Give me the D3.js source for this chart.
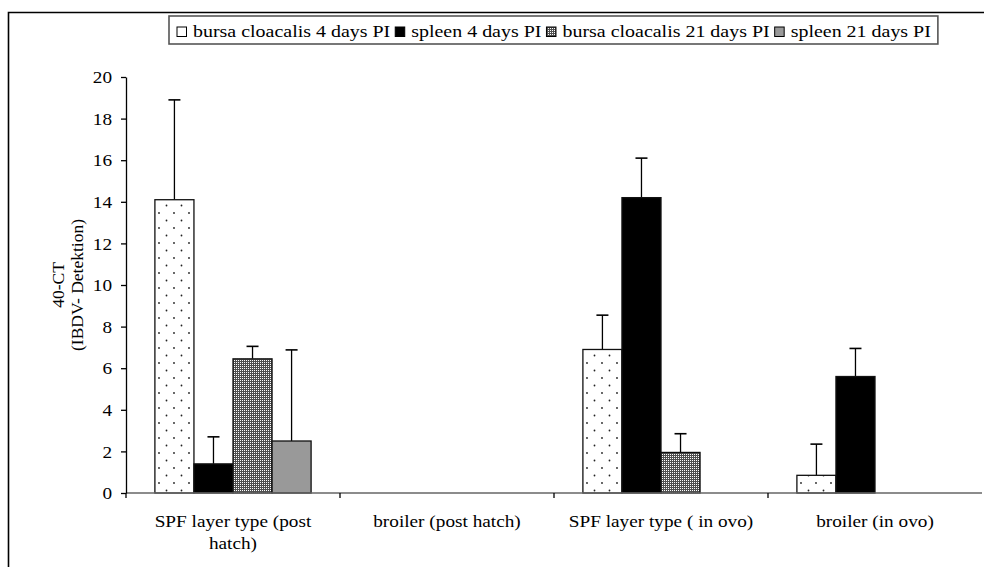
<!DOCTYPE html>
<html>
<head>
<meta charset="utf-8">
<script src="https://cdn.jsdelivr.net/npm/d3@7"></script>
<style>
  body { margin: 0; background: #fff; }
  text { font-family: "Liberation Serif", "Times New Roman", serif; fill: #000; }
</style>
</head>
<body>
<div id="chart"></div>
<script>
const groups = ["SPF layer type (post hatch)", "broiler (post hatch)", "SPF layer type ( in ovo)", "broiler (in ovo)"]
const series = ["bursa cloacalis 4 days PI", "spleen 4 days PI", "bursa cloacalis 21 days PI", "spleen 21 days PI"]
// mean values per group, in series order
const means = [
  [14.1, 1.4, 6.45, 2.5],
  [0, 0, 0, 0],
  [6.9, 14.2, 1.95, 0],
  [0.85, 5.6, 0, 0]
]
// top of the (upper) error bar
const errTop = [
  [18.9, 2.7, 7.05, 6.88],
  [0, 0, 0, 0],
  [8.55, 16.1, 2.85, 0],
  [2.35, 6.95, 0, 0]
]
const yTicks = [0, 2, 4, 6, 8, 10, 12, 14, 16, 18, 20]

const width = 984, height = 567
const margin = {left: 126, right: 2, top: 77, bottom: 74}
const fontSize = 17.5

// the source picture is a little wider than it is tall, so text runs wide
function stretch(sel, k = 1.1) {
  sel.each(function () {
    const w = this.getComputedTextLength()
    d3.select(this).attr("textLength", w * k).attr("lengthAdjust", "spacingAndGlyphs")
  })
}

const svg = d3.select("#chart").append("svg")
    .attr("width", width).attr("height", height)

const defs = svg.append("defs")

const dots = defs.append("pattern").attr("id", "dots")
    .attr("patternUnits", "userSpaceOnUse")
    .attr("width", 15).attr("height", 15)
dots.append("rect").attr("width", 15).attr("height", 15).attr("fill", "#fff")
dots.append("circle").attr("cx", 3).attr("cy", 3).attr("r", 0.9).attr("fill", "#222")
dots.append("circle").attr("cx", 10.5).attr("cy", 10.5).attr("r", 0.9).attr("fill", "#222")

const checker = defs.append("pattern").attr("id", "checker")
    .attr("patternUnits", "userSpaceOnUse")
    .attr("width", 2).attr("height", 2)
checker.append("rect").attr("width", 2).attr("height", 2).attr("fill", "#505050")
checker.append("rect").attr("width", 1).attr("height", 1).attr("fill", "#fff")

const fills = ["url(#dots)", "#000", "url(#checker)", "#999"]
const legendFills = ["#fff", "#000", "url(#checker)", "#999"]

// outer frame
svg.append("path")
    .attr("d", `M8.5,${height} V12.5 H${width}`)
    .attr("fill", "none").attr("stroke", "#000").attr("stroke-width", 1.6)

const x0 = d3.scaleBand().domain(groups)
    .range([margin.left, width - margin.right]).paddingInner(0).paddingOuter(0)
const x1 = d3.scaleBand().domain(series)
    .range([0, x0.bandwidth()]).paddingOuter(0.74)
const y = d3.scaleLinear().domain([0, 20]).range([height - margin.bottom, margin.top])

const g = svg.append("g").selectAll("g.grp").data(groups).join("g")
    .attr("class", "grp")
    .attr("transform", d => `translate(${x0(d)},0)`)

g.selectAll("g.err").data((d, i) => series.map((s, j) => ({s, v: means[i][j], e: errTop[i][j]})))
    .join("g")
    .attr("class", "err")
    .each(function (d) {
      if (d.e <= d.v) return
      const cx = x1(d.s) + x1.bandwidth() / 2
      const sel = d3.select(this)
      sel.append("line").attr("x1", cx).attr("x2", cx)
          .attr("y1", y(d.v)).attr("y2", y(d.e))
          .attr("stroke", "#000").attr("stroke-width", 1.3)
      sel.append("line").attr("x1", cx - 6).attr("x2", cx + 6)
          .attr("y1", y(d.e)).attr("y2", y(d.e))
          .attr("stroke", "#000").attr("stroke-width", 1.6)
    })

// x axis base line (under the bars)
const base = y(0)
svg.append("line").attr("x1", margin.left).attr("x2", width - margin.right)
    .attr("y1", base).attr("y2", base)
    .attr("stroke", "#666").attr("stroke-width", 1.6)

g.selectAll("rect").data((d, i) => series.map((s, j) => ({s, j, v: means[i][j]})))
    .join("rect")
    .attr("x", d => x1(d.s))
    .attr("width", x1.bandwidth())
    .attr("y", d => y(d.v))
    .attr("height", d => y(0) - y(d.v))
    .attr("fill", d => fills[d.j])
    .attr("stroke", d => d.v > 0 ? "#111" : "#444")
    .attr("stroke-width", 1.3)

// y axis
const yAxis = svg.append("g")
    .attr("transform", `translate(${margin.left},0)`)
    .call(d3.axisLeft(y).tickValues(yTicks).tickSize(5).tickSizeOuter(0))
yAxis.select(".domain").attr("stroke", "#000").attr("stroke-width", 1.3)
yAxis.selectAll(".tick line").attr("stroke", "#000").attr("stroke-width", 1.3)
yAxis.selectAll(".tick text")
    .attr("x", -14)
    .style("font-family", "Liberation Serif").style("font-size", fontSize + "px")
    .call(stretch)

svg.selectAll("line.xt").data(groups).join("line")
    .attr("class", "xt")
    .attr("x1", d => x0(d)).attr("x2", d => x0(d))
    .attr("y1", base).attr("y2", base + 5)
    .attr("stroke", "#000").attr("stroke-width", 1.3)

const labelLines = [["SPF layer type (post", "hatch)"], ["broiler (post hatch)"], ["SPF layer type ( in ovo)"], ["broiler (in ovo)"]]
const xLabels = []
groups.forEach((d, i) => labelLines[i].forEach((ln, k) => xLabels.push({g: d, ln, k})))
svg.selectAll("text.xl").data(xLabels).join("text")
    .attr("class", "xl")
    .attr("text-anchor", "middle")
    .attr("font-size", fontSize)
    .attr("x", d => x0(d.g) + x0.bandwidth() / 2)
    .attr("y", d => 527 + d.k * 22)
    .text(d => d.ln)
    .call(stretch)

// y axis title
const yt = svg.append("text")
    .attr("transform", `translate(0,${(y(0) + y(20)) / 2}) rotate(-90)`)
    .attr("text-anchor", "middle").attr("font-size", fontSize)
yt.append("tspan").attr("x", 0).attr("y", 64).text("40-CT")
yt.append("tspan").attr("x", 0).attr("y", 83).text("(IBDV- Detektion)")

// legend
const leg = svg.append("g")
const legBox = leg.append("rect")
    .attr("fill", "#fff").attr("stroke", "#555").attr("stroke-width", 1.6)
const legLeft = 169
let lx = legLeft + 8
const ly = 31.5
series.forEach((s, i) => {
  leg.append("rect").attr("x", lx).attr("y", ly - 4.5).attr("width", 9.5).attr("height", 9.5)
      .attr("fill", legendFills[i]).attr("stroke", "#000").attr("stroke-width", 1)
  const t = leg.append("text").attr("x", lx + 16).attr("y", ly + 5.5)
      .attr("font-size", fontSize).text(s)
  stretch(t, 1.14)
  lx += 16 + +t.attr("textLength") + 5
})
legBox.attr("x", legLeft).attr("y", 16).attr("width", lx - legLeft + 2).attr("height", 28)
</script>
</body>
</html>
